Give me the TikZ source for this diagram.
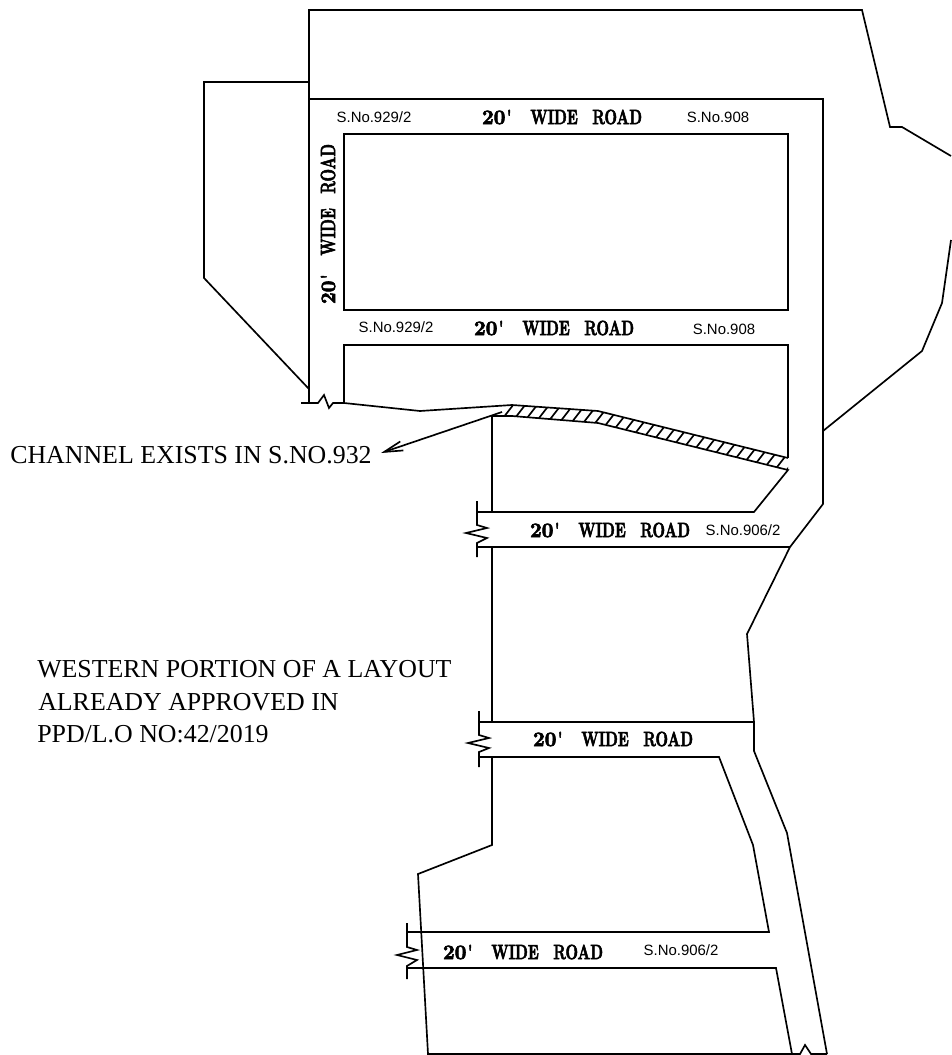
\documentclass[tikz,border=0pt]{standalone}
\usepackage{fontspec}
\usepackage{graphicx}
\usetikzlibrary{arrows.meta}
\newfontfamily\sanslabel{Liberation Sans}
\newfontfamily\seriflabel{Liberation Serif}
\newfontfamily\roadfont[FakeBold=3]{Latin Modern Roman}
\newcommand{\roadname}{\resizebox{120pt}{10.8pt}{\roadfont\bfseries \scalebox{1.4}[1]{20}\kern.1em'\kern.3em\hspace{1em}WIDE\hspace{1em}ROAD}}
\tikzset{
  plan/.style={line width=1.25pt, line join=miter},
  hatch/.style={line width=1.25pt},
  survey/.style={font=\sanslabel\fontsize{11.2}{13}\selectfont, inner sep=0pt},
  road/.style={inner sep=0pt},
  note/.style={font=\seriflabel\fontsize{19.4}{22}\selectfont, inner sep=0pt, anchor=base west}
}
\begin{document}
\begin{tikzpicture}[x=0.75pt,y=-0.75pt]
\useasboundingbox (0,0) rectangle (951,1055);

% outer boundary
\draw [plan] (951,156) -- (902,127) -- (890,127) -- (862,10) -- (309,10) -- (309,403);
\draw [plan] (309,82) -- (204,82) -- (204,278) -- (309,389);
\draw [plan] (951,240) -- (942,303) -- (922,351) -- (823,431);

% road edge and blocks
\draw [plan] (309,99) -- (823,99) -- (823,504) -- (790,547) -- (747,634) -- (754,722) -- (754,751) -- (787,833) -- (827,1054);
\draw [plan] (344,134) rectangle (788,310);
\draw [plan] (344,403) -- (344,345) -- (788,345) -- (788,458);

% channel
\begin{scope}
\clip (492,416) -- (512,405) -- (598,411) -- (788,458) -- (788,470) -- (598,423) -- (512,416) -- cycle;
\foreach \i in {0,...,28} {
  \draw [hatch] (443+12*\i,480) -- ++(62,-80);
}
\end{scope}
\draw [plan] (301,403) -- (318,403) -- (324,395) -- (329,408) -- (333,403) -- (344,403) -- (420,411) -- (512,405) -- (598,411) -- (788,458);
\draw [plan] (492,512) -- (492,416) -- (512,416) -- (598,423) -- (788,470) -- (754,512) -- (477,512);

% road stubs
\draw [plan] (477,501) -- (477,525) -- (487,528) -- (466,533) -- (487,538) -- (477,543) -- (477,557);
\draw [plan] (477,547) -- (790,547);
\draw [plan] (492,547) -- (492,722);
\draw [plan] (479,711) -- (479,735) -- (489,738) -- (468,743) -- (489,748) -- (479,752) -- (479,767);
\draw [plan] (479,722) -- (754,722);
\draw [plan] (479,757) -- (719,757) -- (753,845) -- (769,932) -- (407,932);
\draw [plan] (492,757) -- (492,845) -- (418,874) -- (428,1054) -- (792,1054) -- (776,968) -- (407,968);
\draw [plan] (407,923) -- (407,947) -- (417,950) -- (397,955) -- (417,960) -- (407,966) -- (407,979);
\draw [plan] (792,1054) -- (800,1054) -- (805,1045) -- (811,1054) -- (827,1054);

% leader
\coordinate (channel) at (502,412);
\coordinate (channeltip) at (381,453);
\draw [plan, -{Straight Barb[length=4.9mm,width=2.5mm]}] (channel) -- (channeltip);

% labels
\node [road] (roadA) at (562,117) {\roadname};
\node [road] (roadB) at (554,328) {\roadname};
\node [road] (roadC) at (610,530) {\roadname};
\node [road] (roadD) at (613,739) {\roadname};
\node [road] (roadE) at (523,952) {\roadname};
\node [road, rotate=90] (roadF) at (328,224) {\roadname};
\node [survey] (surveyA) at (374,117) {S.No.929/2};
\node [survey] (surveyB) at (396,327) {S.No.929/2};
\node [survey] (surveyC) at (718,117) {S.No.908};
\node [survey] (surveyD) at (724,329) {S.No.908};
\node [survey] (surveyE) at (743,530) {S.No.906/2};
\node [survey] (surveyF) at (681,950) {S.No.906/2};
\node [note] (channelnote) at (10,463) {CHANNEL EXISTS IN S.NO.932};
\node [note] (westA) at (37,677) {WESTERN PORTION OF A LAYOUT};
\node [note] (westB) at (38,710) {ALREADY APPROVED IN};
\node [note] (westC) at (37,742) {PPD/L.O NO:42/2019};
\end{tikzpicture}
\end{document}
